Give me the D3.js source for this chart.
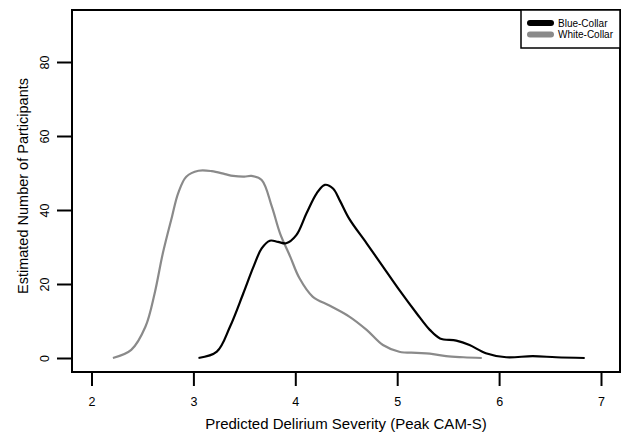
<!DOCTYPE html>
<html><head><meta charset="utf-8">
<script src="https://cdn.jsdelivr.net/npm/d3@7"></script>
<style>body{margin:0;background:#fff}svg{display:block}text{font-family:"Liberation Sans",Arial,sans-serif;fill:#000}</style>
</head><body>
<svg id="c" width="622" height="435"></svg>
<script>
const seriesNames = ["Blue-Collar", "White-Collar"];
const seriesColors = ["#000000", "#8a8a8a"];
const xTicks = [2, 3, 4, 5, 6, 7];
const yTicks = [0, 20, 40, 60, 80];
const whiteX = [2.21, 2.39, 2.53, 2.62, 2.70, 2.79, 2.85, 2.93, 3.05, 3.18, 3.31, 3.39, 3.50, 3.57, 3.67, 3.77, 3.85, 3.95, 4.04, 4.17, 4.34, 4.53, 4.70, 4.86, 5.02, 5.19, 5.32, 5.48, 5.65, 5.83];
const whiteY = [0, 2.2, 8.5, 17.5, 28.3, 38.2, 44.5, 49, 50.6, 50.5, 49.7, 49.2, 49.0, 49.2, 48.1, 40.9, 33.7, 27.4, 21.6, 16.6, 14.1, 11.2, 7.6, 3.5, 1.7, 1.4, 1.2, 0.5, 0.2, 0];
const blueX = [3.05, 3.23, 3.36, 3.49, 3.59, 3.67, 3.75, 3.83, 3.91, 4.01, 4.11, 4.21, 4.29, 4.37, 4.44, 4.53, 4.70, 4.86, 5.02, 5.19, 5.32, 5.42, 5.58, 5.71, 5.87, 6.07, 6.33, 6.56, 6.84];
const blueY = [0, 1.7, 8.5, 17.5, 24.7, 29.6, 31.7, 31.4, 31.0, 33.2, 39.1, 44.5, 46.8, 45.8, 42.4, 37.6, 31.0, 24.7, 18.4, 12.1, 7.6, 5.3, 4.7, 3.5, 1.3, 0.2, 0.5, 0.2, 0];

const svg = d3.select("#c");
const L = 72, R = 620, T = 10, B = 372;
const x = d3.scaleLinear().domain([2, 7]).range([91.5, 601]);
const y = d3.scaleLinear().domain([0, 80]).range([358, 62]);

// frame
svg.append("rect").attr("x", L).attr("y", T).attr("width", R - L).attr("height", B - T)
  .attr("fill", "none").attr("stroke", "#000").attr("stroke-width", 2);

// x axis
const xa = svg.append("g").attr("transform", `translate(0,${B})`)
  .call(d3.axisBottom(x).tickValues(xTicks).tickSize(14).tickPadding(11).tickFormat(d3.format("d")));
xa.select(".domain").remove();
xa.selectAll("line").attr("stroke-width", 2);
xa.selectAll("text").attr("font-size", 12.5).attr("font-family", "Liberation Sans, Arial, sans-serif");

// y axis
const ya = svg.append("g").attr("transform", `translate(${L},0)`)
  .call(d3.axisLeft(y).tickValues(yTicks).tickSize(15).tickFormat(d3.format("d")));
ya.select(".domain").remove();
ya.selectAll("line").attr("stroke-width", 2);
ya.selectAll(".tick text").attr("font-size", 12.5).attr("font-family", "Liberation Sans, Arial, sans-serif")
  .attr("x", null).attr("y", null).attr("dy", "0.35em").attr("text-anchor", "middle")
  .attr("transform", "translate(-27,0) rotate(-90)");

// titles
svg.append("text").attr("x", (L + R) / 2).attr("y", 429).attr("text-anchor", "middle")
  .attr("font-size", 15).text("Predicted Delirium Severity (Peak CAM-S)");
svg.append("text").attr("transform", `translate(28,186) rotate(-90)`).attr("text-anchor", "middle")
  .attr("font-size", 14.5).text("Estimated Number of Participants");

// lines
const line = d3.line().x(d => x(d[0])).y(d => y(d[1])).curve(d3.curveCatmullRom.alpha(0.5));
const whiteData = whiteX.map((v, i) => [v, whiteY[i]]);
const blueData = blueX.map((v, i) => [v, blueY[i]]);
svg.append("path").datum(whiteData).attr("d", line).attr("fill", "none")
  .attr("stroke", seriesColors[1]).attr("stroke-width", 2.2);
svg.append("path").datum(blueData).attr("d", line).attr("fill", "none")
  .attr("stroke", seriesColors[0]).attr("stroke-width", 2.2);

// legend
const lg = svg.append("g");
lg.append("rect").attr("x", 521).attr("y", T).attr("width", R - 521).attr("height", 38)
  .attr("fill", "#fff").attr("stroke", "#000").attr("stroke-width", 1.5);
seriesNames.forEach((n, i) => {
  const yy = 23 + i * 11.5;
  lg.append("line").attr("x1", 530).attr("x2", 551).attr("y1", yy).attr("y2", yy)
    .attr("stroke", seriesColors[i]).attr("stroke-width", 6).attr("stroke-linecap", "round");
  lg.append("text").attr("x", 558).attr("y", yy).attr("dy", "0.35em").attr("font-size", 10).text(n);
});
</script>
</body></html>
